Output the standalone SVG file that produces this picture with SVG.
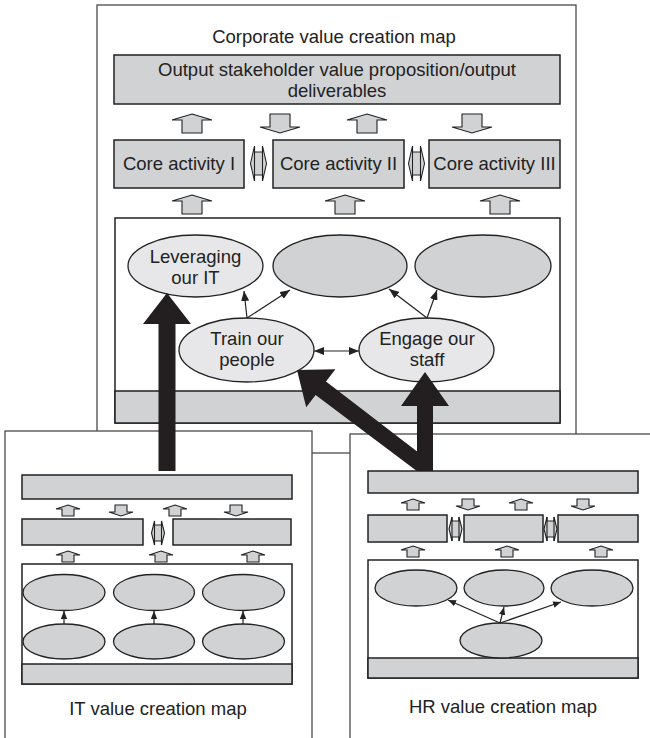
<svg xmlns="http://www.w3.org/2000/svg" width="650" height="738" viewBox="0 0 650 738">
  <style>
    .frame { fill: #ffffff; stroke: #4a4a4a; stroke-width: 1.3; }
    .box { fill: #d1d2d4; stroke: #222222; stroke-width: 1.5; }
    .inner { fill: #ffffff; stroke: #222222; stroke-width: 1.5; }
    .ell { fill: #d1d2d4; stroke: #222222; stroke-width: 1.3; }
    .ell-lt { fill: #e7e7e9; stroke: #222222; stroke-width: 1.3; }
    .blk { fill: #231f20; stroke: none; }
    .flow { fill: #d1d2d4; stroke: #222222; stroke-width: 1.1; }
    .link { fill: none; stroke: #222222; stroke-width: 1.2; }
    .lbl { font-family: "Liberation Sans", Arial, sans-serif; font-size: 18.5px; fill: #222222; text-anchor: middle; }
  </style>
  <defs>
    <!-- hollow block arrows between rows -->
    <path id="upL" class="flow" d="M0,0 L20,6 L10,6 L10,19 L-10,19 L-10,6 L-20,6 Z"/>
    <path id="dnL" class="flow" d="M-10,0 L10,0 L10,13 L20,13 L0,19 L-20,13 L-10,13 Z"/>
    <path id="upS" class="flow" d="M0,0 L12,4 L6,4 L6,11 L-6,11 L-6,4 L-12,4 Z"/>
    <path id="dnS" class="flow" d="M-6,0 L6,0 L6,7 L12,7 L0,11 L-12,7 L-6,7 Z"/>
    <!-- two-way links between core activities -->
    <g id="bothL" class="flow">
      <path d="M-8,17.5 L-4,0 L-4,6 L4,6 L4,0 L8,17.5 L4,35 L4,29 L-4,29 L-4,35 Z"/>
      <path d="M-4,0 V35 M4,0 V35" fill="none"/>
    </g>
    <g id="bothS" class="flow">
      <path d="M-6.5,12 L-3.5,0 L-3.5,4 L3.5,4 L3.5,0 L6.5,12 L3.5,24 L3.5,20 L-3.5,20 L-3.5,24 Z"/>
      <path d="M-3.5,0 V24 M3.5,0 V24" fill="none"/>
    </g>
    <marker id="tip" viewBox="0 0 10 8" refX="10" refY="4" markerWidth="10" markerHeight="8" markerUnits="userSpaceOnUse" orient="auto-start-reverse">
      <path d="M0,0 L10,4 L0,8 Z" fill="#222222"/>
    </marker>
    <marker id="tipS" viewBox="0 0 10 8" refX="10" refY="4" markerWidth="8" markerHeight="7" markerUnits="userSpaceOnUse" orient="auto-start-reverse">
      <path d="M0,0 L10,4 L0,8 Z" fill="#222222"/>
    </marker>
  </defs>

  <!-- Corporate value creation map -->
  <g id="corporate-map">
    <rect class="frame" x="97" y="5" width="479" height="448"/>
    <text class="lbl" x="334" y="43">Corporate value creation map</text>
    <g id="corp-output">
      <rect class="box" x="114" y="55" width="446" height="49"/>
      <text class="lbl" x="337" y="76">Output stakeholder value proposition/output</text>
      <text class="lbl" x="337" y="97">deliverables</text>
    </g>
    <use href="#upL" x="192" y="114"/>
    <use href="#dnL" x="280" y="114"/>
    <use href="#upL" x="367" y="114"/>
    <use href="#dnL" x="472" y="114"/>
    <g id="core-1">
      <rect class="box" x="114" y="140" width="130" height="48"/>
      <text class="lbl" x="179" y="170">Core activity I</text>
    </g>
    <g id="core-2">
      <rect class="box" x="273" y="140" width="131" height="48"/>
      <text class="lbl" x="338.5" y="170">Core activity II</text>
    </g>
    <g id="core-3">
      <rect class="box" x="429" y="140" width="131" height="48"/>
      <text class="lbl" x="494.5" y="170">Core activity III</text>
    </g>
    <use href="#bothL" x="258.5" y="146"/>
    <use href="#bothL" x="416.5" y="146"/>
    <use href="#upL" x="192" y="195"/>
    <use href="#upL" x="345" y="195"/>
    <use href="#upL" x="500" y="195"/>
    <rect class="inner" x="115" y="218" width="445" height="205"/>
    <rect class="box" x="115" y="391" width="445" height="32"/>
    <g id="leveraging-it">
      <ellipse class="ell-lt" cx="195.5" cy="266" rx="67.5" ry="31"/>
      <text class="lbl" x="195.5" y="263">Leveraging</text>
      <text class="lbl" x="195.5" y="284">our IT</text>
    </g>
    <g id="objective-2">
      <ellipse class="ell" cx="340" cy="266" rx="67" ry="31"/>
    </g>
    <g id="objective-3">
      <ellipse class="ell" cx="483" cy="266" rx="68" ry="31"/>
    </g>
    <g id="train-people">
      <ellipse class="ell-lt" cx="246.5" cy="350" rx="67.5" ry="32"/>
      <text class="lbl" x="247" y="345">Train our</text>
      <text class="lbl" x="247" y="366">people</text>
    </g>
    <g id="engage-staff">
      <ellipse class="ell-lt" cx="426.5" cy="350" rx="67.5" ry="32"/>
      <text class="lbl" x="427" y="345">Engage our</text>
      <text class="lbl" x="427" y="366">staff</text>
    </g>
  </g>

  <!-- IT value creation map -->
  <g id="it-map">
    <rect class="frame" x="5" y="431" width="307" height="320"/>
    <rect class="box" x="22" y="475" width="270" height="24"/>
    <use href="#upS" x="68" y="505"/>
    <use href="#dnS" x="121" y="505"/>
    <use href="#upS" x="175" y="505"/>
    <use href="#dnS" x="236" y="505"/>
    <rect class="box" x="22" y="519" width="121" height="26"/>
    <rect class="box" x="173" y="519" width="118" height="26"/>
    <use href="#bothS" x="158" y="521"/>
    <use href="#upS" x="68" y="551"/>
    <use href="#upS" x="161" y="551"/>
    <use href="#upS" x="253" y="551"/>
    <rect class="inner" x="22" y="564" width="270" height="120"/>
    <rect class="box" x="22" y="664" width="270" height="20"/>
    <ellipse class="ell" cx="64" cy="592.5" rx="41" ry="18"/>
    <ellipse class="ell" cx="154" cy="592.5" rx="40.5" ry="18"/>
    <ellipse class="ell" cx="243.5" cy="592.5" rx="41" ry="18"/>
    <ellipse class="ell" cx="64" cy="641.5" rx="41" ry="17.5"/>
    <ellipse class="ell" cx="154" cy="641.5" rx="40.5" ry="17.5"/>
    <ellipse class="ell" cx="243.5" cy="641.5" rx="41" ry="17.5"/>
    <text class="lbl" x="158" y="715">IT value creation map</text>
  </g>

  <!-- HR value creation map -->
  <g id="hr-map">
    <rect class="frame" x="350" y="434" width="310" height="320"/>
    <rect class="box" x="368" y="471" width="270" height="22"/>
    <use href="#upS" x="413" y="499"/>
    <use href="#dnS" x="468" y="499"/>
    <use href="#upS" x="521" y="499"/>
    <use href="#dnS" x="583" y="499"/>
    <rect class="box" x="368" y="515" width="79" height="27"/>
    <rect class="box" x="464" y="515" width="79" height="27"/>
    <rect class="box" x="558" y="515" width="80" height="27"/>
    <use href="#bothS" x="455.5" y="517"/>
    <use href="#bothS" x="550.5" y="517"/>
    <use href="#upS" x="413" y="546"/>
    <use href="#upS" x="507" y="546"/>
    <use href="#upS" x="601" y="546"/>
    <rect class="inner" x="368" y="560" width="270" height="118"/>
    <rect class="box" x="368" y="658" width="270" height="20" stroke-width="2"/>
    <ellipse class="ell" cx="416" cy="588" rx="41" ry="18"/>
    <ellipse class="ell" cx="504" cy="588" rx="40" ry="18"/>
    <ellipse class="ell" cx="592" cy="588" rx="41" ry="18"/>
    <ellipse class="ell" cx="501" cy="640.5" rx="41" ry="17.5"/>
    <text class="lbl" x="503" y="713">HR value creation map</text>
  </g>

  <!-- connectors -->
  <g id="connectors">
    <line class="link" x1="247" y1="318" x2="244" y2="291" marker-end="url(#tip)"/>
    <line class="link" x1="247" y1="318" x2="290" y2="290" marker-end="url(#tip)"/>
    <line class="link" x1="427" y1="318" x2="389" y2="289" marker-end="url(#tip)"/>
    <line class="link" x1="427" y1="318" x2="437" y2="290" marker-end="url(#tip)"/>
    <line class="link" x1="314" y1="351" x2="359" y2="351" marker-start="url(#tip)" marker-end="url(#tip)"/>
    <line class="link" x1="64" y1="624" x2="64" y2="611" marker-end="url(#tipS)"/>
    <line class="link" x1="154" y1="624" x2="154" y2="611" marker-end="url(#tipS)"/>
    <line class="link" x1="243" y1="624" x2="243" y2="611" marker-end="url(#tipS)"/>
    <line class="link" x1="500" y1="623" x2="448" y2="600" marker-end="url(#tipS)"/>
    <line class="link" x1="500" y1="623" x2="504" y2="607" marker-end="url(#tipS)"/>
    <line class="link" x1="500" y1="623" x2="561" y2="602" marker-end="url(#tipS)"/>
    <!-- heavy arrows from the IT and HR maps into the corporate map -->
    <polygon class="blk" points="158.5,471 158.5,324 143,324 167,293 191,324 175.5,324 175.5,471"/>
    <polygon class="blk" points="417,471 417,406 401,406 425,372 449,406 433,406 433,471"/>
    <polygon class="blk" points="427.2,459.3 326,381.6 335.4,369.3 297,370 306.2,407.3 315.6,395 416.8,471"/>
  </g>
</svg>
